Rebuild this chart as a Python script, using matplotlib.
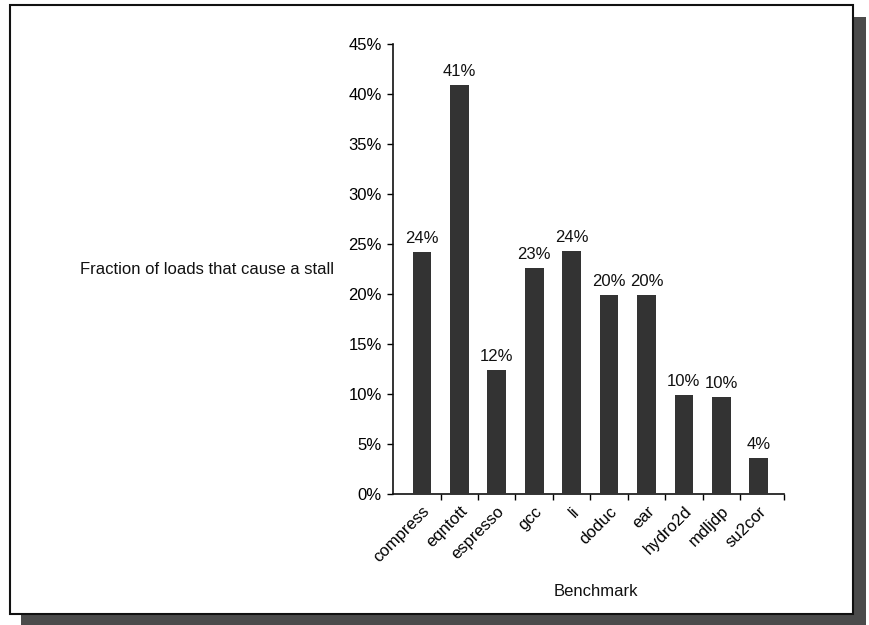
import matplotlib
matplotlib.use("Agg")
import matplotlib.pyplot as plt
from matplotlib.patches import Rectangle
from matplotlib.ticker import FuncFormatter, FixedLocator
from matplotlib.transforms import ScaledTranslation

plt.rcParams['font.family'] = ['Liberation Sans', 'DejaVu Sans']

benchmarks = ["compress", "eqntott", "espresso", "gcc", "li",
              "doduc", "ear", "hydro2d", "mdljdp", "su2cor"]
stall_fraction = [24.2, 40.9, 12.4, 22.6, 24.3, 19.9, 19.9, 9.9, 9.7, 3.6]
y_ticks = [0, 5, 10, 15, 20, 25, 30, 35, 40, 45]

W, H = 869, 625
fig = plt.figure(figsize=(W / 100, H / 100), dpi=100)
fig.patch.set_facecolor("white")

def px_rect(x0, y0, x1, y1, **kw):
    # rectangle given in pixel coordinates measured from the top-left corner
    return Rectangle((x0 / W, 1 - y1 / H), (x1 - x0) / W, (y1 - y0) / H,
                     transform=fig.transFigure, **kw)

# drop shadow and framed panel
fig.patches.append(px_rect(21, 17, 866, 625, facecolor="#4b4b4b", edgecolor="none", zorder=0))
fig.patches.append(px_rect(10, 5, 853, 614, facecolor="white", edgecolor="#111111",
                           linewidth=1.5, zorder=1))

ax = fig.add_axes([393 / W, 1 - 494 / H, (784 - 393) / W, (494 - 44) / H])
ax.set_facecolor("none")
ax.set_zorder(2)

x = list(range(len(benchmarks)))
ax.bar(x, stall_fraction, width=0.5, color="#333333", zorder=3)

for xi, v in zip(x, stall_fraction):
    ax.annotate(f"{v:.0f}%", (xi, v), xytext=(0, 4), textcoords="offset points",
                ha="center", va="bottom", fontsize=12, color="#111111")

# category slots leave a small gap before the first and after the last one
x_lo, x_hi = -0.773, len(benchmarks) - 0.324
ax.set_xlim(x_lo, x_hi)
ax.set_ylim(0, 45)
ax.yaxis.set_major_locator(FixedLocator(y_ticks))
ax.yaxis.set_major_formatter(FuncFormatter(lambda v, p: f"{v:.0f}%"))

ax.set_xticks(x)
ax.set_xticklabels(benchmarks, rotation=45, ha="right", va="top",
                   rotation_mode="anchor", fontsize=12)
shift = ScaledTranslation(5 / 100, 0, fig.dpi_scale_trans)
for lbl in ax.get_xticklabels():
    lbl.set_transform(lbl.get_transform() + shift)
ax.set_xticks([i + 0.5 for i in x[:-1]] + [x_hi], minor=True)
ax.tick_params(axis="x", which="major", length=0, pad=7)
ax.tick_params(axis="x", which="minor", length=4, width=1, direction="out")
ax.tick_params(axis="y", length=4, width=1, direction="out", labelsize=12, pad=4)

for s in ["top", "right"]:
    ax.spines[s].set_visible(False)
for s in ["left", "bottom"]:
    ax.spines[s].set_linewidth(1.2)
    ax.spines[s].set_color("#111111")

fig.text(80 / W, 1 - 270 / H, "Fraction of loads that cause a stall",
         ha="left", va="center", fontsize=12, color="#111111")
fig.text(596 / W, 1 - 592 / H, "Benchmark", ha="center", va="center",
         fontsize=12, color="#111111")

fig.savefig("out.png", dpi=100)
